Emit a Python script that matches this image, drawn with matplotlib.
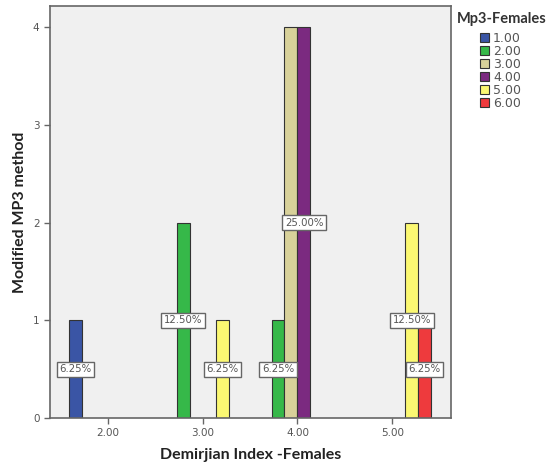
"""Clustered bar chart: Modified MP3 method vs Demirjian Index (females)."""

import matplotlib
matplotlib.use("Agg")
import matplotlib.pyplot as plt
import numpy as np

# x groups (Demirjian Index) and legend categories (Mp3-Females)
GROUPS = [2.00, 3.00, 4.00, 5.00]
GROUP_LABELS = ["2.00", "3.00", "4.00", "5.00"]
CATEGORIES = ["1.00", "2.00", "3.00", "4.00", "5.00", "6.00"]

# counts per category, one value per group
CAT1 = [1, 0, 0, 0]
CAT2 = [0, 2, 1, 0]
CAT3 = [0, 0, 4, 0]
CAT4 = [0, 0, 4, 0]
CAT5 = [0, 1, 0, 2]
CAT6 = [0, 0, 0, 1]
COUNTS = [CAT1, CAT2, CAT3, CAT4, CAT5, CAT6]
TOTAL = 16

# SPSS-ish palette
COLORS = ["#3a55a5", "#36b849", "#d8d19a", "#7b2a80", "#fbf872", "#ee3a3d"]
BG = "#f0f0f0"
EDGE = "#333333"
AXIS_GREY = "#666666"

# (category index, group index) labels hidden behind a neighbour's box
HIDDEN_LABELS = {(2, 2)}

fig = plt.figure(figsize=(5.48, 4.66), dpi=100)
ax = fig.add_axes([0.0912, 0.103, 0.732, 0.884])
ax.set_facecolor(BG)

bar_w = 0.137
n = len(CATEGORIES)
for ci, (vals, color) in enumerate(zip(COUNTS, COLORS)):
    offset = (ci - (n - 1) / 2) * bar_w
    for gi, (g, v) in enumerate(zip(GROUPS, vals)):
        if v == 0:
            continue
        ax.bar(g + offset, v, width=bar_w, color=color, edgecolor=EDGE,
               linewidth=0.8, zorder=2)

# percentage labels at half the bar height
for ci, vals in enumerate(COUNTS):
    offset = (ci - (n - 1) / 2) * bar_w
    for gi, (g, v) in enumerate(zip(GROUPS, vals)):
        if v == 0 or (ci, gi) in HIDDEN_LABELS:
            continue
        ax.text(g + offset, v / 2, f"{v / TOTAL * 100:.2f}%",
                ha="center", va="center", fontsize=7.3, color="#555555",
                bbox=dict(boxstyle="square,pad=0.25", facecolor="white",
                          edgecolor="#666666", linewidth=1.0),
                zorder=5)

ax.set_xlim(1.39, 5.62)
ax.set_ylim(0, 4.215)
ax.set_xticks(GROUPS)
ax.set_xticklabels(GROUP_LABELS)
ax.set_yticks([0, 1, 2, 3, 4])
ax.tick_params(axis="both", labelsize=7.5, colors=AXIS_GREY, length=4,
               width=1, direction="out", labelcolor="#555555")

for sp in ax.spines.values():
    sp.set_color(AXIS_GREY)
    sp.set_linewidth(1.2)

ax.set_xlabel("Demirjian Index -Females", fontsize=11.5, fontweight="bold",
              family="Lato", color="#222222", labelpad=7)
ax.set_ylabel("Modified MP3 method", fontsize=11.5, fontweight="bold",
              family="Lato", color="#222222", labelpad=4)

# legend: title as its own text so the gap above the swatches matches
fig.text(457 / 548, 1 - 19 / 466, "Mp3-Females", ha="left", va="center",
         fontsize=10.5, fontweight="bold", family="Lato", color="#333333")
handles = [plt.Rectangle((0, 0), 1, 1, facecolor=c, edgecolor=EDGE, linewidth=0.8)
           for c in COLORS]
leg = fig.legend(handles, CATEGORIES,
                 loc="upper left", bbox_to_anchor=(480 / 548, 1 - 32 / 466),
                 frameon=False, fontsize=9,
                 handlelength=0.75, handleheight=0.75, handletextpad=0.3,
                 labelspacing=0.0, borderaxespad=0, borderpad=0)
for t in leg.get_texts():
    t.set_color("#555555")

fig.savefig("out.png", dpi=100)
